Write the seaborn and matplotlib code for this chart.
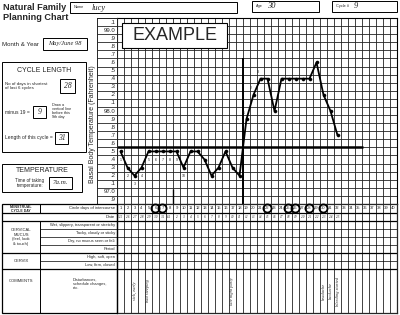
import numpy as np
import matplotlib
matplotlib.use("Agg")
import matplotlib.pyplot as plt
import seaborn as sns
from matplotlib.patches import Rectangle

# ---------------- data ----------------
cycle_days = [1, 2, 3, 4, 5, 6, 7, 8, 9, 10, 11, 12, 13, 14, 15, 16,
              17, 18, 19, 20, 21, 22, 23, 24, 25, 26, 27, 28, 29, 30, 31, 32]
temperatures = [97.5, 97.3, 97.2, 97.3, 97.5, 97.5, 97.5, 97.5, 97.5, 97.3,
                97.5, 97.5, 97.4, 97.2, 97.3, 97.5, 97.3, 97.2, 97.9, 98.2,
                98.4, 98.4, 98.0, 98.4, 98.4, 98.4, 98.4, 98.4, 98.6, 98.2,
                98.0, 97.7]
low_count_days = [1, 2, 3, 4, 5, 6, 7, 8, 9, 10]
low_count_labels = ["1", "2", "3", "4", "5", "6", "7", "8", "9", "10"]
high_count_days = [19, 20, 21]
high_count_labels = ["1", "2", "3"]
coverline_temp = 97.55
coverline_last_day = 35.6
shift_day = 19
ninth_day = 9
intercourse_days = [6, 7, 22, 25, 26, 28, 30]
column_numbers = [1, 2, 3, 4, 5, 6, 7, 8, 9, 10, 11, 12, 13, 14, 15, 16, 17, 18, 19, 20,
                  21, 22, 23, 24, 25, 26, 27, 28, 29, 30, 31, 32, 33, 34, 35, 36, 37, 38, 39, 40]
date_labels = ["5/25", "26", "27", "28", "29", "30", "31", "6/1", "2", "3", "4", "5",
               "6", "7", "8", "9", "10", "11", "12", "13", "14", "15", "16", "17",
               "18", "19", "20", "21", "22", "23", "24", "25"]
temp_ticks = [96.9, 97.0, 97.1, 97.2, 97.3, 97.4, 97.5, 97.6, 97.7, 97.8, 97.9,
              98.0, 98.1, 98.2, 98.3, 98.4, 98.5, 98.6, 98.7, 98.8, 98.9, 99.0, 99.1]
temp_labels = [".9", "97.0", ".1", ".2", ".3", ".4", ".5", ".6", ".7", ".8", ".9",
               "98.0", ".1", ".2", ".3", ".4", ".5", ".6", ".7", ".8", ".9", "99.0", ".1"]
comment_days = [3, 5, 17, 30, 31, 32]
comment_texts = ["sick, early", "bad sleeping", "late night party",
                 "headache", "backache", "bleeding started"]

# ---------------- style ----------------
sns.set_style("white")
plt.rcParams["font.family"] = ["Liberation Sans", "DejaVu Sans"]
HAND = ["Liberation Serif", "DejaVu Serif"]
NARROW = ["Liberation Sans Narrow", "Liberation Sans", "DejaVu Sans"]
W, H = 400, 315
fig = plt.figure(figsize=(4, 3.15), dpi=100)
fig.patch.set_facecolor("white")


def axes_px(x0, y0, x1, y1, **kw):
    return fig.add_axes([x0 / W, 1 - y1 / H, (x1 - x0) / W, (y1 - y0) / H], **kw)


GX0, GX1, GY0, GY1 = 117, 397, 18, 204
TY1 = 313
ncol = len(column_numbers)
tmin, tmax = temp_ticks[0] - 0.05, temp_ticks[-1] + 0.05
col_edges = np.arange(0.5, ncol + 1, 1.0)
row_edges = np.arange(tmin, tmax + 0.01, 0.1)
GRID = "#222222"

# ---------------- temperature grid ----------------
ax = axes_px(GX0, GY0, GX1, GY1)
ax.set_xlim(0.5, ncol + 0.5)
ax.set_ylim(tmin, tmax)
ax.set_xticks([])
ax.set_yticks([])
ax.set_xticks(col_edges, minor=True)
ax.set_yticks(row_edges, minor=True)
ax.grid(True, which="minor", color=GRID, lw=0.6)
ax.tick_params(which="both", length=0, labelbottom=False, labelleft=False)
for s in ax.spines.values():
    s.set_linewidth(0.8)
    s.set_color("black")

sns.lineplot(x=cycle_days, y=temperatures, ax=ax, color="black", lw=1.3,
             marker="o", markersize=2.2, markeredgecolor="black",
             markerfacecolor="black", markeredgewidth=0.4, zorder=4)
ax.hlines(coverline_temp, 0.5, coverline_last_day, color="black", lw=1.8, zorder=3)
ax.vlines(shift_day - 0.5, tmin, 98.65, color="black", lw=1.4, zorder=3)
ax.vlines(ninth_day - 0.5, tmin - 0.12, 97.03, color="black", lw=1.0,
          zorder=6, clip_on=False)
tmap = dict(zip(cycle_days, temperatures))
for d, l in zip(low_count_days, low_count_labels):
    ax.text(d, tmap[d] - 0.1, l, fontsize=2.6, ha="center", va="center", zorder=5)
for d, l in zip(high_count_days, high_count_labels):
    ax.text(d - 0.35, tmap[d] + 0.08, l, fontsize=2.6, ha="center", va="center", zorder=5)

# label column
lab = axes_px(97, GY0, GX0, GY1)
lab.set_xlim(0, 1)
lab.set_ylim(tmin, tmax)
lab.set_xticks([])
lab.set_yticks([])
lab.set_yticks(row_edges, minor=True)
lab.grid(True, which="minor", axis="y", color=GRID, lw=0.6)
lab.tick_params(which="both", length=0, labelleft=False)
for s in lab.spines.values():
    s.set_linewidth(0.7)
for t, l in zip(temp_ticks, temp_labels):
    lab.text(0.92, t, l, ha="right", va="center", fontsize=4.3)

# ---------------- bottom table ----------------
row_bounds = [204, 213, 221, 229, 237, 245, 253, 261, 269, 313]
tb = axes_px(GX0, GY1, GX1, TY1)
tb.set_xlim(0.5, ncol + 0.5)
tb.set_ylim(TY1, GY1)
tb.set_xticks([])
tb.set_yticks([])
tb.set_xticks(col_edges, minor=True)
tb.grid(True, which="minor", axis="x", color=GRID, lw=0.6)
tb.tick_params(which="both", length=0, labelbottom=False, labelleft=False)
for s in tb.spines.values():
    s.set_linewidth(0.9)
for b in row_bounds[1:-1]:
    tb.hlines(b, 0.5, ncol + 0.5, color="black",
              lw=0.9 if b in (213, 221, 253, 269) else 0.5)
day_row_y = (row_bounds[0] + row_bounds[1]) / 2
date_row_y = (row_bounds[1] + row_bounds[2]) / 2
for d in column_numbers:
    tb.text(d, day_row_y, str(d), ha="center", va="center", fontsize=3.0)
for d, l in zip(cycle_days, date_labels):
    tb.text(d, date_row_y, l, ha="center", va="center", fontsize=2.4,
            family=HAND, style="italic")
tb.scatter(intercourse_days, [day_row_y] * len(intercourse_days), s=34,
           facecolors="none", edgecolors="black", linewidths=1.3, zorder=5,
           clip_on=False)
for d, c in zip(comment_days, comment_texts):
    tb.text(d, 291, c, rotation=90, ha="center", va="center", fontsize=3.2,
            family=HAND, style="italic")

# ---------------- overlay (form layout) ----------------
ov = fig.add_axes([0, 0, 1, 1], zorder=10)
ov.set_xlim(0, W)
ov.set_ylim(H, 0)
ov.axis("off")
ov.patch.set_alpha(0)


def box(x0, y0, x1, y1, lw=0.7, fill=False):
    ov.add_patch(Rectangle((x0, y0), x1 - x0, y1 - y0, fill=fill,
                           facecolor="white", edgecolor="black", lw=lw, zorder=5))


# title
ov.text(3, 7.5, "Natural Family", fontsize=6.6, fontweight="bold", va="center",
        family=NARROW)
ov.text(3, 18, "Planning Chart", fontsize=6.6, fontweight="bold", va="center",
        family=NARROW)

# header boxes
box(70, 2, 237, 13)
ov.text(74, 7.5, "Name", fontsize=2.8, va="center")
ov.text(92, 7.5, "lucy", fontsize=6, va="center", family=HAND, style="italic")
box(252, 1, 319, 12)
ov.text(256, 6.5, "Age", fontsize=2.8, va="center")
ov.text(267, 6.5, "30", fontsize=6, va="center", family=HAND, style="italic")
box(332, 1, 397, 12)
ov.text(336, 6.5, "Cycle #", fontsize=2.8, va="center")
ov.text(354, 6.5, "9", fontsize=6, va="center", family=HAND, style="italic")

# EXAMPLE stamp
box(122, 23, 227, 48, lw=0.8, fill=True)
ov.text(174.5, 36, "EXAMPLE", fontsize=13, ha="center", va="center", zorder=6)

# month & year
ov.text(2, 44, "Month & Year", fontsize=4.4, va="center")
box(43, 38, 87, 50)
ov.text(65, 44, "May/June 98", fontsize=4.6, ha="center", va="center",
        family=HAND, style="italic")

# cycle length
box(2, 62, 86, 152)
ov.text(44, 70, "CYCLE LENGTH", fontsize=5, ha="center", va="center")
ov.text(5, 86, "No of days in shortest\nof last 6 cycles", fontsize=3.2,
        va="center", linespacing=1.1)
box(60, 79, 75, 93)
ov.text(67.5, 86, "28", fontsize=5.5, ha="center", va="center", family=HAND,
        style="italic")
ov.text(5, 112, "minus 19 =", fontsize=3.6, va="center")
box(33, 106, 46, 118)
ov.text(39.5, 112, "9", fontsize=5.5, ha="center", va="center", family=HAND,
        style="italic")
ov.text(52, 111, "Draw a\nvertical line\nbefore this\n9th day", fontsize=2.8,
        va="center", linespacing=1.1)
ov.text(5, 138, "Length of this cycle =", fontsize=3.6, va="center")
box(55, 132, 68, 144)
ov.text(61.5, 138, "31", fontsize=5.5, ha="center", va="center", family=HAND,
        style="italic")

# temperature box
box(2, 164, 82, 192)
ov.text(42, 170.5, "TEMPERATURE", fontsize=5, ha="center", va="center")
ov.text(30, 183, "Time of taking\ntemperature:", fontsize=3.3, ha="center",
        va="center", linespacing=1.1)
box(49, 177, 72, 189)
ov.text(60.5, 183, "7a.m.", fontsize=5, ha="center", va="center", family=HAND,
        style="italic")

# y-axis title
ov.text(92, 124, "Basal Body Temperature (Fahrenheit)", rotation=90, fontsize=5,
        ha="center", va="center")

# left part of table
LX0, LX1, GCOL = 2, GX0, 40
ov.add_patch(Rectangle((LX0, 204), LX1 - LX0, 109, fill=False, lw=0.9,
                       edgecolor="black", zorder=5))
for b in (213, 221, 253, 269):
    ov.plot([LX0, LX1], [b, b], color="black", lw=0.9, zorder=5)
for b in (229, 237, 245, 261):
    ov.plot([GCOL, LX1], [b, b], color="black", lw=0.5, zorder=5)
ov.plot([GCOL, GCOL], [204, 213], color="black", lw=0.7, zorder=5)
ov.plot([GCOL, GCOL], [221, 313], color="black", lw=0.7, zorder=5)
ov.text(21, 208.5, "MENSTRUAL\nCYCLE DAY", fontsize=2.5, fontweight="bold",
        ha="center", va="center", linespacing=1.0)
ov.text(115, 208.5, "Circle days of intercourse", fontsize=3.0, ha="right",
        va="center")
ov.text(115, 217, "Date", fontsize=3.2, ha="right", va="center")
ov.text(21, 237, "CERVICAL\nMUCUS\n(feel, look\n& touch)", fontsize=3.0,
        ha="center", va="center", linespacing=1.15)
mucus_rows = ["Wet, slippery, transparent or stretchy", "Tacky, cloudy or sticky",
              "Dry, no mucus seen or felt", "Period"]
for i, t in enumerate(mucus_rows):
    ov.text(115, 225 + 8 * i, t, fontsize=2.9, ha="right", va="center")
ov.text(21, 261, "CERVIX", fontsize=3.0, ha="center", va="center")
ov.text(115, 257, "High, soft, open", fontsize=2.9, ha="right", va="center")
ov.text(115, 265, "Low, firm, closed", fontsize=2.9, ha="right", va="center")
ov.text(21, 281, "COMMENTS", fontsize=3.0, ha="center", va="center")
ov.text(73, 284, "Disturbances,\nschedule changes,\netc.", fontsize=2.9,
        ha="left", va="center", linespacing=1.15)

fig.savefig("out.png", dpi=100, facecolor="white")
